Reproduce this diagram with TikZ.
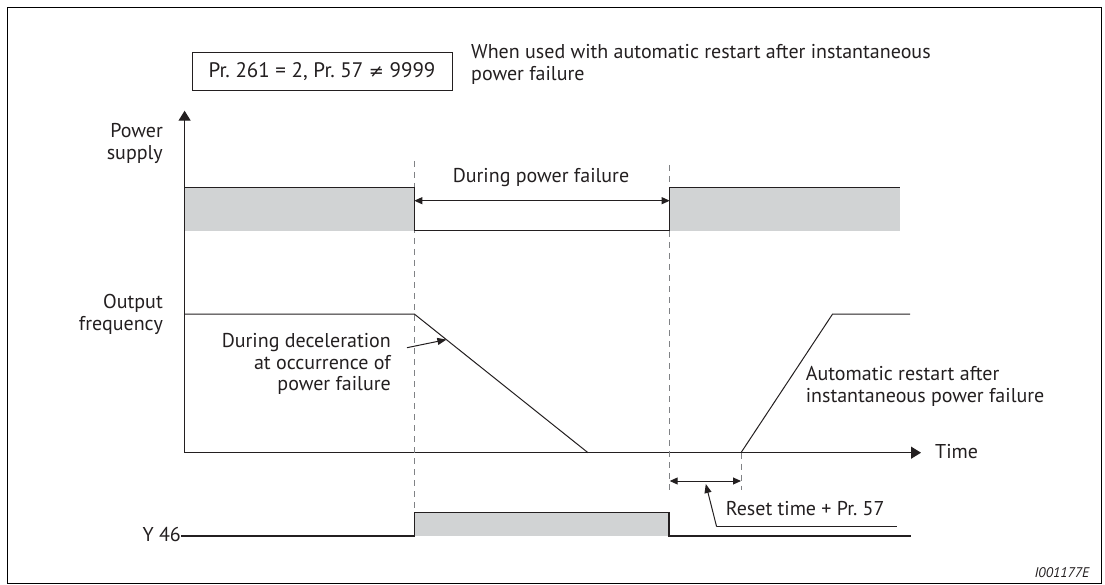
\documentclass[tikz,border=0pt]{standalone}
\usepackage{fontspec}
\setmainfont{PT Sans}
\newfontfamily\symfam{DejaVu Sans}
\usetikzlibrary{arrows.meta}
\definecolor{ink}{HTML}{231F20}
\definecolor{band}{HTML}{D1D3D4}
\definecolor{dashc}{HTML}{808285}
\begin{document}
\begin{tikzpicture}[x=1pt,y=-1pt,
  txt/.style={font=\fontsize{20}{21.7}\selectfont, inner sep=0pt, text=ink},
  sig/.style={line width=1.3pt, draw=ink},
  thin/.style={line width=1pt, draw=ink},
  vdash/.style={draw=dashc, line width=0.9pt, dash pattern=on 6pt off 5pt},
  bandfill/.style={fill=band},
  bigtip/.style={-{Triangle[length=10pt,width=12pt]}},
  smalltip/.style={{Triangle[length=8pt,width=7pt]}-{Triangle[length=8pt,width=7pt]}},
  leadtip/.style={-{Triangle[length=9pt,width=7pt]}}]
\useasboundingbox (0,0) rectangle (1105,585);
\draw[line width=1.6pt, draw=black] (7.5,7.5) rectangle (1101.5,583.5);

% condition box and note
\node[draw=ink, line width=1pt, minimum width=260pt, minimum height=38pt, inner sep=0pt, text=ink, font=\fontsize{21}{24}\selectfont] (cond) at (322,72) {Pr.~261~=~2, Pr.~57~{\symfam\fontsize{18}{20}\selectfont ≠}~9999};
\node[txt, anchor=north west, align=left] (note) at (471,44) {When used with automatic restart after instantaneous\\power failure};

% axes
\coordinate (O) at (184.6,452.7);
\coordinate (ytop) at (184.6,110.7);
\coordinate (tend) at (921,452.7);
\draw[sig, bigtip] (O) -- (ytop);
\draw[sig, bigtip] (O) -- (tend);
\node[txt, anchor=west] (time) at (935,452) {Time};

% labels
\node[txt, anchor=north east, align=right] (ps) at (163,123) {Power\\supply};
\node[txt, anchor=north east, align=right] (of) at (163,294) {Output\\frequency};

% dashed guide lines
\draw[vdash] (414.3,161) -- (414.3,512);
\draw[vdash] (669.7,165) -- (669.7,490);
\draw[vdash] (741,452.7) -- (741,490);

% power supply
\coordinate (p0) at (184.6,187.3);
\coordinate (p1) at (414.3,187.3);
\coordinate (p2) at (414.3,230.7);
\coordinate (p3) at (669.7,230.7);
\coordinate (p4) at (669.7,187.3);
\coordinate (p5) at (900,187.3);
\coordinate (p6) at (900,230.7);
\fill[bandfill] (p0) rectangle (p2);
\fill[bandfill] (p4) rectangle (p6);
\draw[sig] (p0) -- (p1) -- (p2) -- (p3) -- (p4) -- (p5);
\coordinate (pfa) at (414.3,200.7);
\coordinate (pfb) at (669.7,200.7);
\draw[thin, smalltip] (pfa) -- (pfb);
\node[txt] (pf) at (541,177.7) {During power failure};

% output frequency
\coordinate (f0) at (184.6,314);
\coordinate (f1) at (414.3,314);
\coordinate (f2) at (588,452.7);
\coordinate (r0) at (741,452.7);
\coordinate (r1) at (832.6,314);
\coordinate (r2) at (910,314);
\draw[thin] (f0) -- (f1) -- (f2);
\draw[thin] (r0) -- (r1) -- (r2);
\node[txt, anchor=north east, align=right] (dec) at (391,333) {During deceleration\\at occurrence of\\power failure};
\coordinate (da) at (407,347.7);
\coordinate (db) at (446.4,339.6);
\draw[thin, leadtip] (da) -- (db);
\node[txt, anchor=north west, align=left] (ar) at (805.6,366) {Automatic restart after\\instantaneous power failure};

% reset time
\coordinate (ra) at (669.7,481);
\coordinate (rb) at (741,481);
\draw[thin, smalltip] (ra) -- (rb);
\coordinate (lk) at (716.6,526.7);
\coordinate (lt) at (705.8,484);
\coordinate (le) at (896.8,526.7);
\draw[thin, leadtip] (lk) -- (lt);
\draw[thin] (lk) -- (le);
\node[txt, anchor=base west] (rt) at (725.6,515.3) {Reset time + Pr.~57};

% Y46
\node[txt, anchor=base east] (y46) at (181,541.7) {Y 46};
\coordinate (y1) at (414.3,536);
\coordinate (y0) at (y46.east |- y1);
\coordinate (y2) at (414.3,512.3);
\coordinate (y3) at (669,512.3);
\coordinate (y4) at (669,536);
\coordinate (y5) at (911,536);
\fill[bandfill] (y2) rectangle (y4);
\draw[sig] (y0) -- (y1) -- (y2) -- (y3) -- (y4) -- (y5);

\node[anchor=base east, inner sep=0pt, text=ink, font=\fontsize{14}{16}\selectfont\itshape] (id) at (1089.5,577.7) {I001177E};
\end{tikzpicture}
\end{document}
